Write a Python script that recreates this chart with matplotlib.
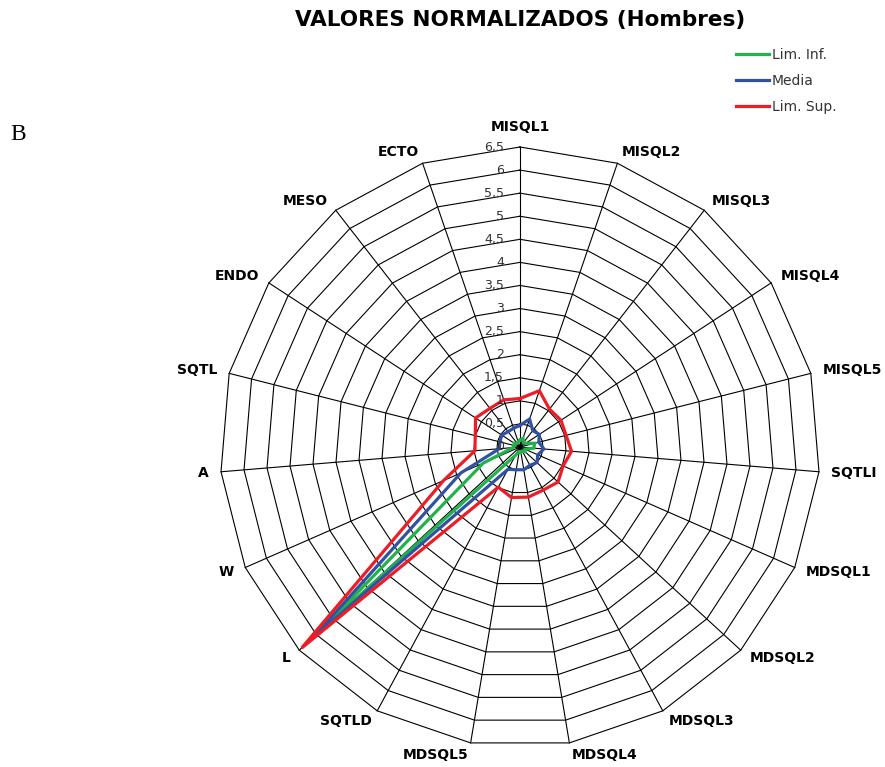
import numpy as np
import matplotlib
matplotlib.use("Agg")
import matplotlib.pyplot as plt

categories = ["MISQL1", "MISQL2", "MISQL3", "MISQL4", "MISQL5", "SQTLI",
              "MDSQL1", "MDSQL2", "MDSQL3", "MDSQL4", "MDSQL5", "SQTLD",
              "L", "W", "A", "SQTL", "ENDO", "MESO", "ECTO"]

lim_inf = [0.15, 0.20, 0.12, 0.15, 0.33, 0.30, 0.12, 0.15, 0.10, 0.12,
           0.10, 0.20, 5.90, 0.87, 0.15, 0.12, 0.15, 0.10, 0.12]
media = [0.47, 0.64, 0.45, 0.50, 0.42, 0.52, 0.42, 0.50, 0.45, 0.50,
         0.50, 0.55, 6.10, 1.40, 0.45, 0.45, 0.47, 0.42, 0.43]
lim_sup = [1.05, 1.29, 1.04, 1.06, 1.03, 1.12, 1.02, 1.12, 1.06, 1.10,
           1.11, 0.99, 6.43, 1.81, 0.98, 1.00, 1.15, 1.06, 1.08]

ring_values = [0.5 * i for i in range(0, 14)]
ring_labels = ["0", "0,5", "1", "1,5", "2", "2,5", "3", "3,5", "4", "4,5",
               "5", "5,5", "6", "6,5"]

series_names = ["Lim. Inf.", "Media", "Lim. Sup."]
series_colors = ["#22b14c", "#3152a3", "#ee1c25"]

W, H = 885, 767
fig = plt.figure(figsize=(W / 100, H / 100), dpi=100)
cx, cy, R = 520, 447, 300
ax = fig.add_axes([(cx - R) / W, (H - cy - R) / H, 2 * R / W, 2 * R / H],
                  projection="polar")
ax.set_theta_zero_location("N")
ax.set_theta_direction(-1)
rmax = ring_values[-1]
ax.set_ylim(0, rmax)
ax.grid(False)
ax.set_xticks([])
ax.set_yticks([])
ax.spines["polar"].set_visible(False)
ax.patch.set_alpha(0)

n = len(categories)
theta = np.arange(n) * 2 * np.pi / n
theta_closed = np.append(theta, theta[0])

# polygon rings
for rv in ring_values[1:]:
    ax.plot(theta_closed, [rv] * (n + 1), color="black", lw=0.8,
            clip_on=False, zorder=1)
# spokes
for t in theta:
    ax.plot([t, t], [0, rmax], color="black", lw=0.8, clip_on=False, zorder=1)

# data series
handles = []
for vals, name, col in zip([lim_inf, media, lim_sup], series_names, series_colors):
    v = list(vals) + [vals[0]]
    h, = ax.plot(theta_closed, v, color=col, lw=2.3, clip_on=False, zorder=3,
                 solid_joinstyle="miter", label=name)
    handles.append(h)

# radial tick labels along the top spoke
for rv, lab in zip(ring_values, ring_labels):
    ax.annotate(lab, xy=(0, rv), xytext=(-16, 0), textcoords="offset pixels",
                ha="right", va="center", fontsize=9, color="#333333",
                annotation_clip=False, zorder=4)

# category labels
for t, lab in zip(theta, categories):
    s, c = np.sin(t), np.cos(t)
    if abs(s) < 0.05:
        ha = "center"
        off = 20
    else:
        ha = "left" if s > 0 else "right"
        off = 12
    ax.annotate(lab, xy=(t, rmax), xytext=(off * s, off * c),
                textcoords="offset pixels", ha=ha, va="center",
                fontsize=10, fontweight="bold", color="black",
                annotation_clip=False)

fig.text(520 / W, 1 - 20 / H, "VALORES NORMALIZADOS (Hombres)", ha="center",
         va="center", fontsize=15.5, fontweight="bold")
fig.text(10 / W, 1 - 134 / H, "B", ha="left", va="center", fontsize=17,
         family="Liberation Serif")

leg = fig.legend(handles=handles, labels=series_names, loc="upper left",
                 bbox_to_anchor=(736 / W, 1 - 48 / H), frameon=False,
                 fontsize=10, handlelength=2.4, handletextpad=0.2,
                 labelspacing=0.85, borderpad=0, borderaxespad=0)
for txt in leg.get_texts():
    txt.set_color("#333333")

fig.savefig("out.png", dpi=100)
